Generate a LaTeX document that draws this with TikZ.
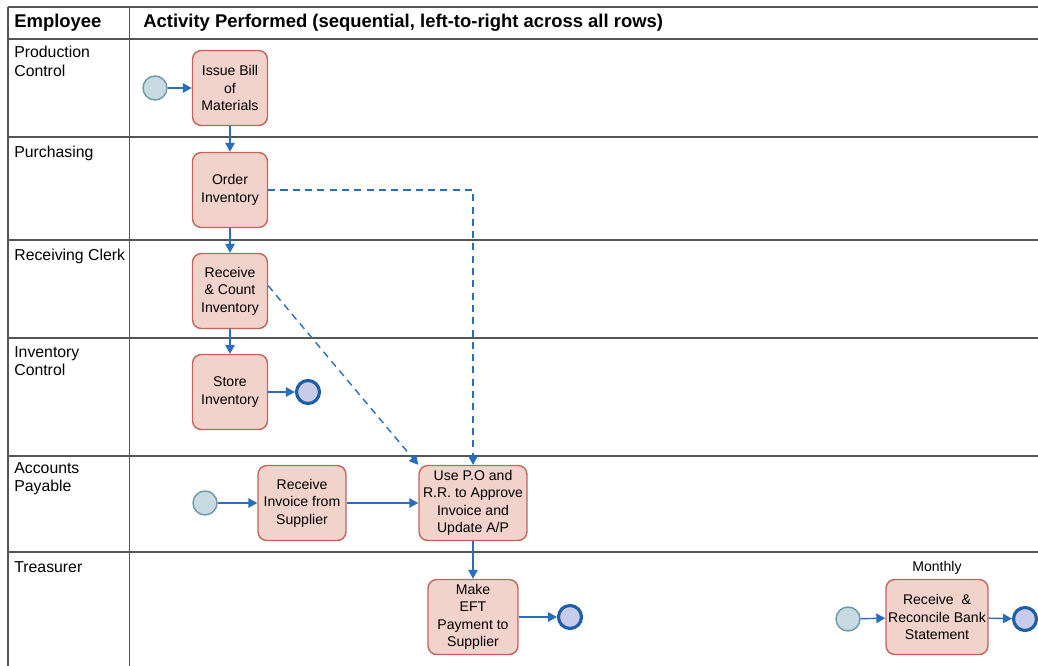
\documentclass[tikz,border=0pt]{standalone}
\usepackage{fontspec}
\setmainfont{Liberation Sans}
\usetikzlibrary{arrows.meta,positioning}
\definecolor{boxfill}{HTML}{F2D3CB}
\definecolor{boxline}{HTML}{C0645C}
\definecolor{startfill}{HTML}{C8DAE2}
\definecolor{startline}{HTML}{6A9AAA}
\definecolor{endfill}{HTML}{C9CBEB}
\definecolor{endline}{HTML}{1F5FAA}
\definecolor{flow}{HTML}{2A6EBB}
\definecolor{grid}{HTML}{555555}
\tikzset{
  taskbox/.style={draw=boxline, fill=boxfill, rounded corners=5pt, thick, align=center,
    minimum width=1.5cm, minimum height=1.5cm, inner sep=1pt,
    font=\fontsize{8}{10}\selectfont},
  startev/.style={circle, draw=startline, fill=startfill, thick, minimum size=0.48cm, inner sep=0pt},
  endev/.style={circle, draw=endline, fill=endfill, line width=1.8pt, minimum size=0.46cm, inner sep=0pt},
  lanelabel/.style={anchor=north west, align=left, inner sep=0pt, font=\fontsize{9}{10.5}\selectfont},
  headlabel/.style={anchor=west, inner sep=0pt, font=\fontsize{10.5}{12}\selectfont\bfseries},
  flowarr/.style={-{Triangle[length=1.8mm,width=1.9mm]}, draw=flow, line width=0.8pt},
  docarr/.style={flowarr, dashed, dash pattern=on 4pt off 3pt},
  gridline/.style={draw=grid, line width=0.9pt}
}
\begin{document}
\begin{tikzpicture}[x=0.02cm, y=-0.02cm]
  \useasboundingbox (0,0) rectangle (1038,666);
  % swimlane table
  \foreach \yy in {7,39,137,240,338,456,552}
    \draw[gridline] (8,\yy) -- (1038,\yy);
  \draw[gridline] (8,7) -- (8,666);
  \draw[gridline] (129.5,7) -- (129.5,666);
  \node[headlabel] (hemp) at (14,23) {Employee};
  \node[headlabel] (hact) at (143,23) {Activity Performed (sequential, left-to-right across all rows)};
  \node[lanelabel] (lprod) at (14,46) {Production\\Control};
  \node[lanelabel] (lpurch) at (14,146) {Purchasing};
  \node[lanelabel] (lrecv) at (14,249) {Receiving Clerk};
  \node[lanelabel] (linv) at (14,346) {Inventory\\Control};
  \node[lanelabel] (lap) at (14,462) {Accounts\\Payable};
  \node[lanelabel] (ltreas) at (14,561) {Treasurer};
  % tasks
  \node[startev] (s1) at (155,88) {};
  \node[taskbox] (bom) at (230,88) {Issue Bill\\of\\Materials};
  \node[taskbox] (order) at (230,190) {Order\\Inventory};
  \node[taskbox] (recv) at (230,291) {Receive\\\& Count\\Inventory};
  \node[taskbox] (store) at (230,392) {Store\\Inventory};
  \node[endev] (e1) at (308,392) {};
  \node[startev] (s2) at (205,503) {};
  \node[taskbox, minimum width=1.76cm] (invoice) at (302,503) {Receive\\Invoice from\\Supplier};
  \node[taskbox, minimum width=2.16cm] (approve) at (473,503) {Use P.O and\\R.R. to Approve\\Invoice and\\Update A/P};
  \node[taskbox, minimum width=1.8cm] (eft) at (473,617) {Make\\EFT\\Payment to\\Supplier};
  \node[endev] (e2) at (570,617) {};
  \node[startev] (s3) at (848,619) {};
  \node[taskbox, minimum width=2.04cm] (recon) at (937,617) {Receive\ \ \&\\Reconcile Bank\\Statement};
  \node[font=\fontsize{8}{10}\selectfont, above=-1pt of recon] (monthly) {Monthly};
  \node[endev] (e3) at (1025,619) {};
  % flows
  \draw[flowarr] (s1) -- (bom);
  \draw[flowarr] (bom) -- (order);
  \draw[flowarr] (order) -- (recv);
  \draw[flowarr] (recv) -- (store);
  \draw[flowarr] (store) -- (e1);
  \draw[flowarr] (s2) -- (invoice);
  \draw[flowarr] (invoice) -- (approve);
  \draw[flowarr] (approve) -- (eft);
  \draw[flowarr] (eft) -- (e2);
  \draw[flowarr] (s3) -- (recon);
  \draw[flowarr] (recon) -- (e3);
  \draw[docarr] (order.east) -| (approve.north);
  \draw[docarr] ([yshift=3pt]recv.east) -- (approve.north west);
\end{tikzpicture}
\end{document}
